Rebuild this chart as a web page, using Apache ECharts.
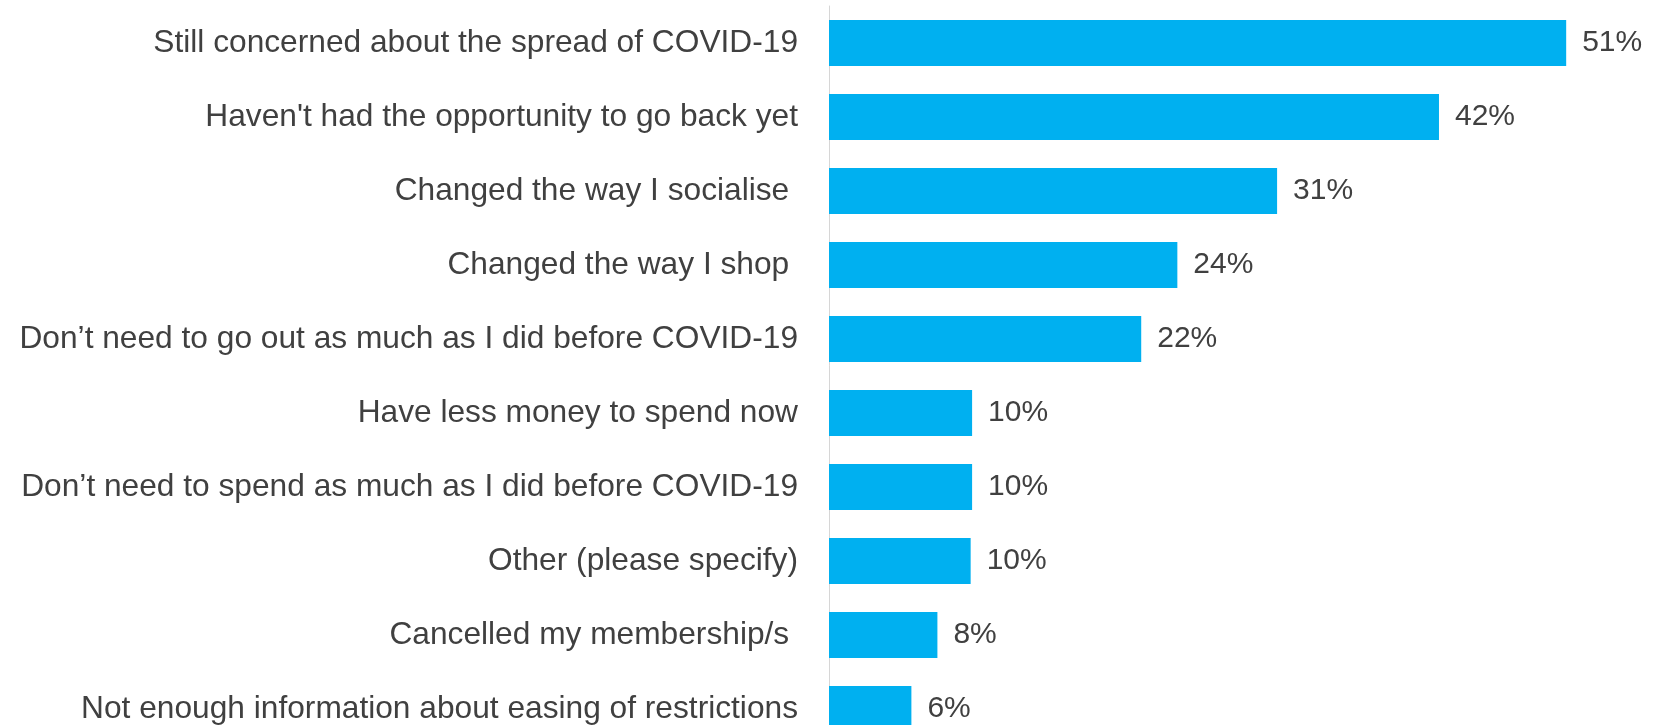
<!DOCTYPE html>
<html>
<head>
<meta charset="utf-8">
<script src="https://cdn.jsdelivr.net/npm/echarts@6/dist/echarts.min.js"></script>
<style>
  html, body { margin: 0; padding: 0; background: #ffffff; }
  #chart { width: 1662px; height: 725px; }
</style>
</head>
<body>
<div id="chart"></div>
<script>
// reasons (top to bottom)
var reasons = [
    'Still concerned about the spread of COVID-19',
    "Haven't had the opportunity to go back yet",
    'Changed the way I socialise ',
    'Changed the way I shop ',
    'Don\u2019t need to go out as much as I did before COVID-19',
    'Have less money to spend now',
    'Don\u2019t need to spend as much as I did before COVID-19',
    'Other (please specify)',
    'Cancelled my membership/s ',
    'Not enough information about easing of restrictions'
];
// share of respondents, %
var shares = [51, 42.2, 31.0, 24.1, 21.6, 9.9, 9.9, 9.8, 7.5, 5.7];

var chart = echarts.init(document.getElementById('chart'));
var option = {
    backgroundColor: '#ffffff',
    animation: false,
    grid: { left: 829, top: 6, width: 795, height: 740, outerBoundsMode: 'none' },
    xAxis: {
        type: 'value',
        min: 0,
        max: 55,
        show: false
    },
    yAxis: {
        type: 'category',
        inverse: true,
        data: reasons,
        axisTick: { show: false },
        axisLine: { show: true, lineStyle: { color: '#d6d6d6', width: 1 } },
        axisLabel: {
            margin: 31,
            color: '#404040',
            fontSize: 31.7,
            fontFamily: 'Liberation Sans, Arial, sans-serif'
        }
    },
    series: [{
        type: 'bar',
        data: shares,
        barCategoryGap: '38%',
        itemStyle: { color: '#00b0f0' },
        label: {
            show: true,
            position: 'right',
            distance: 16,
            color: '#404040',
            fontSize: 30,
            fontFamily: 'Liberation Sans, Arial, sans-serif',
            formatter: function (p) { return Math.round(p.value) + '%'; }
        }
    }]
};
chart.setOption(option);
</script>
</body>
</html>
